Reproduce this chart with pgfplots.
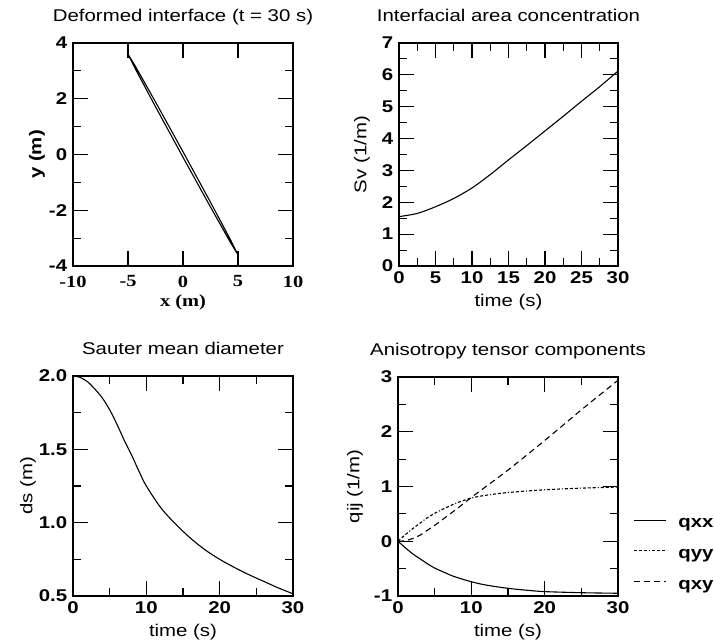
\documentclass[border=0pt]{standalone}
\usepackage{fontspec}
\setmainfont{Liberation Sans}[FakeStretch=1.2]
\newfontfamily\serifb{Liberation Serif}[FakeStretch=1.2]
\usepackage{pgfplots}
\pgfplotsset{compat=1.18}
\pgfplotsset{
  grace/.style={
    scale only axis,
    axis line style={line width=1.1pt},
    every tick/.style={line width=1.1pt, black},
    major tick length=15pt,
    minor tick length=8pt,
    tick align=inside,
    tick pos=both,
    ticklabel style={font=\bfseries},
    /pgf/number format/assume math mode=true,
    title style={at={(axis description cs:0.5,1)}, anchor=base, yshift=15pt},
    xlabel style={at={(axis description cs:0.5,0)}, anchor=base, yshift=-41pt},
    ylabel style={anchor=center},
  }
}
\begin{document}
\fontsize{17pt}{20pt}\selectfont
\begin{tikzpicture}
\path[use as bounding box] (0,0) rectangle (714pt,644pt);
% top-left
\begin{axis}[grace, at={(73pt,378pt)}, anchor=south west, width=220pt, height=223pt,
  xmin=-10, xmax=10, ymin=-4, ymax=4,
  xtick={-10,-5,0,5,10}, ytick={-4,-2,0,2,4}, minor ytick={-3,-1,1,3},
  xticklabel style={font=\serifb\bfseries, yshift=-4pt},
  title={Deformed interface (t = 30 s)},
  xlabel={\serifb\bfseries x (m)},
  ylabel={\bfseries y (m)}, ylabel style={at={(axis description cs:-0.164,0.5)}}]
\addplot[black, line width=1.1pt] coordinates {(5,-3.6) (4.353,-3.085) (2.541,-1.744) (0.047,0.065) (-2.459,1.856) (-4.307,3.151) (-5,3.6) (-4.353,3.085) (-2.541,1.744) (-0.047,-0.065) (2.459,-1.856) (4.307,-3.151) (5,-3.6)};
\end{axis}
% top-right
\begin{axis}[grace, at={(399pt,378pt)}, anchor=south west, width=219pt, height=223pt,
  xmin=0, xmax=30, ymin=0, ymax=7,
  xtick={0,5,...,30}, minor xtick={2.5,7.5,...,27.5},
  ytick={0,1,...,7}, minor ytick={0.5,1.5,...,6.5},
  title={Interfacial area concentration},
  xlabel={time (s)},
  ylabel={Sv (1/m)}, ylabel style={at={(axis description cs:-0.169,0.5)}}]
\addplot[black, line width=1.1pt, smooth] coordinates {(0,1.55) (2.5,1.65) (5,1.86) (7.5,2.12) (10,2.45) (12.5,2.87) (15,3.33) (17.5,3.78) (20,4.24) (22.5,4.7) (25,5.17) (27.5,5.63) (30,6.12)};
\end{axis}
% bottom-left
\begin{axis}[grace, at={(73pt,48pt)}, anchor=south west, width=220pt, height=220pt,
  xmin=0, xmax=30, ymin=0.5, ymax=2,
  xtick={0,10,20,30}, minor xtick={5,15,25},
  ytick={0.5,1,1.5,2}, minor ytick={0.75,1.25,1.75},
  yticklabel style={/pgf/number format/.cd, fixed, fixed zerofill, precision=1},
  title={Sauter mean diameter},
  xlabel={time (s)},
  ylabel={ds (m)}, ylabel style={at={(axis description cs:-0.205,0.5)}}]
\addplot[black, line width=1.1pt, smooth] coordinates {(0,2.0) (1,1.99) (2,1.96) (3,1.91) (4,1.85) (5,1.77) (6,1.67) (7,1.56) (8,1.46) (9,1.35) (10,1.25) (12,1.10) (14,0.99) (16,0.895) (18,0.815) (20,0.75) (22,0.695) (24,0.645) (26,0.6) (28,0.555) (30,0.515)};
\end{axis}
% bottom-right
\begin{axis}[grace, at={(398pt,48pt)}, anchor=south west, width=220pt, height=219pt,
  xmin=0, xmax=30, ymin=-1, ymax=3,
  xtick={0,10,20,30}, minor xtick={5,15,25},
  ytick={-1,0,1,2,3}, minor ytick={-0.5,0.5,1.5,2.5},
  title={Anisotropy tensor components},
  xlabel={time (s)},
  ylabel={qij (1/m)}, ylabel style={at={(axis description cs:-0.195,0.5)}},
  legend style={draw=none, fill=none, at={(axis description cs:1,0)}, anchor=north west, xshift=15pt, yshift=77.5pt, inner sep=0pt, row sep=19pt, font=\bfseries, nodes={inner sep=0pt}},
  legend cell align=left,
  legend image code/.code={\draw[#1] (0pt,4.5pt) -- (32pt,4.5pt); \path (44pt,4.5pt);}]
\addplot[black, line width=1.1pt, smooth] coordinates {(0,0) (1,-0.12) (2,-0.23) (3,-0.32) (4,-0.41) (5,-0.49) (6,-0.55) (7,-0.61) (8,-0.66) (10,-0.74) (12,-0.80) (15,-0.86) (18,-0.9) (20,-0.92) (25,-0.94) (30,-0.95)};
\addlegendentry{qxx}
\addplot[black, line width=1.1pt, smooth, dash pattern=on 3pt off 2pt on 3pt off 2pt on 3pt off 2pt on 1pt off 2pt] coordinates {(0,0) (1,0.12) (2,0.23) (3,0.33) (4,0.43) (5,0.51) (6,0.58) (7,0.64) (8,0.70) (10,0.79) (12,0.84) (15,0.89) (20,0.94) (25,0.97) (30,0.99)};
\addlegendentry{qyy}
\addplot[black, line width=1.1pt, smooth, dash pattern=on 6pt off 4pt] coordinates {(0,0) (1,0.01) (2,0.05) (3,0.11) (4,0.2) (5,0.29) (6,0.39) (7,0.49) (8,0.59) (10,0.8) (12,1.0) (15,1.3) (20,1.84) (25,2.4) (30,2.94)};
\addlegendentry{qxy}
\end{axis}
\end{tikzpicture}
\end{document}
